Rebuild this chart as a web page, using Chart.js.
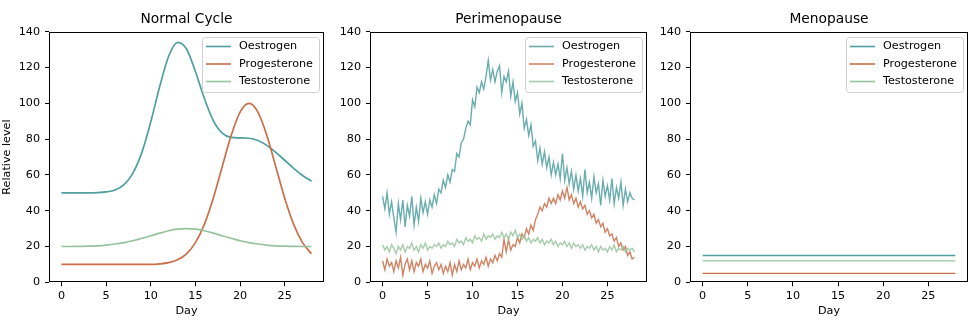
<!DOCTYPE html>
<html>
<head>
<meta charset="utf-8">
<title>Hormone levels</title>
<script src="https://cdn.jsdelivr.net/npm/chart.js@4.4.0/dist/chart.umd.min.js"></script>
<style>
  html, body { margin: 0; padding: 0; background: #fff; }
  #wrap { position: relative; width: 980px; height: 330px; }
  canvas { position: absolute; top: 0; }
</style>
</head>
<body>
<div id="wrap">
  <canvas id="normalChart" width="330" height="330" style="left:0px"></canvas>
  <canvas id="periChart" width="325" height="330" style="left:330px"></canvas>
  <canvas id="menoChart" width="330" height="330" style="left:650px"></canvas>
</div>
<script>
// ticks
const dayTicks = [0, 5, 10, 15, 20, 25];
const levelTicks = [0, 20, 40, 60, 80, 100, 120, 140];
const hormones = ['Oestrogen', 'Progesterone', 'Testosterone'];

// Normal cycle (one value per day)
const normalDays = [0, 1, 2, 3, 4, 5, 6, 7, 8, 9, 10, 11, 12, 13, 14, 15, 16, 17, 18, 19, 20, 21, 22, 23, 24, 25, 26, 27, 28];
const normalOestrogen = [50, 50, 50, 50, 50.1, 50.5, 51.6, 54.6, 61, 72.6, 89.7, 109.4, 126.3, 134.1, 130.4,
  117.8, 102.7, 90.4, 83.4, 81, 80.7, 80.5, 79.2, 76.5, 72.6, 68.2, 63.7, 59.7, 56.5];
const normalProgesterone = [10, 10, 10, 10, 10, 10, 10, 10, 10, 10, 10, 10.3, 11, 12.6, 15.9,
  22.2, 32.4, 47, 64.6, 82, 95.1, 100, 95.1, 82, 64.6, 47, 32.4, 22.2, 15.9];
const normalTestosterone = [20, 20, 20.1, 20.2, 20.4, 20.8, 21.4, 22.2, 23.2, 24.6, 26, 27.5, 28.8, 29.7, 30,
  29.7, 28.8, 27.5, 26, 24.6, 23.2, 22.2, 21.4, 20.8, 20.4, 20.2, 20.1, 20, 20];

// Perimenopause (read every quarter day, one row per day)
const periOestrogen = [
  48, 41, 50, 38,
  45, 36, 28, 44,
  35, 46, 31, 43,
  37, 48, 32, 42,
  34, 47, 39, 45,
  38, 46, 42, 49,
  44, 52, 50, 57,
  53, 60, 56, 63,
  62, 72, 70, 78,
  80, 86, 90, 88,
  102, 98, 109, 106,
  112, 108, 115, 124,
  113, 119, 112, 118,
  121, 106, 115, 112,
  118, 104, 112, 101,
  106, 94, 100, 86,
  91, 82, 88, 76,
  79, 68, 75, 66,
  73, 64, 70, 60,
  67, 60, 66, 58,
  72, 57, 64, 55,
  62, 52, 60, 51,
  58, 48, 63, 50,
  56, 47, 59, 50,
  55, 43, 57, 48,
  54, 46, 58, 44,
  53, 47, 56, 43,
  52, 45, 50, 47,
  46
];
const periProgesterone = [
  12, 7, 13, 9,
  11, 6, 12, 8,
  14, 4, 10, 13,
  7, 12, 6, 11,
  9, 13, 6, 10,
  8, 12, 5, 9,
  11, 7, 10, 5,
  9, 6, 11, 4,
  10, 6, 12, 7,
  10, 8, 13, 7,
  11, 9, 13, 8,
  12, 10, 14, 9,
  13, 11, 15, 12,
  16, 14, 24, 17,
  24, 18, 21, 20,
  25, 22, 27, 25,
  30, 27, 32, 29,
  35, 38, 42, 40,
  44, 42, 47, 44,
  47, 44, 49, 46,
  51, 47, 53, 46,
  49, 44, 47, 42,
  45, 41, 43, 38,
  40, 36, 38, 33,
  35, 31, 33, 28,
  30, 26, 27, 23,
  25, 20, 22, 18,
  20, 15, 17, 13,
  14
];
const periTestosterone = [
  21, 18, 20, 17,
  21, 19, 16, 20,
  18, 21, 17, 20,
  19, 22, 18, 20,
  17, 21, 19, 22,
  18, 20, 19, 21,
  20, 22, 19, 21,
  20, 23, 21, 22,
  20, 24, 22, 23,
  21, 25, 23, 24,
  22, 26, 24, 25,
  23, 27, 24, 26,
  25, 27, 24, 26,
  25, 28, 25, 27,
  24, 28, 26, 29,
  25, 27, 24, 26,
  23, 25, 22, 24,
  23, 25, 22, 24,
  21, 23, 22, 24,
  21, 23, 20, 22,
  21, 23, 20, 22,
  19, 22, 20, 21,
  19, 21, 18, 20,
  19, 21, 18, 20,
  17, 20, 18, 19,
  17, 20, 18, 21,
  17, 19, 18, 20,
  17, 19, 18, 19,
  17
];
const periDays = periOestrogen.map((_, i) => i * 0.25);

// Menopause (flat)
const menoDays = [0, 28];
const menoOestrogen = [15, 15];
const menoProgesterone = [5, 5];
const menoTestosterone = [12, 12];

const colors = ['#4f9fa0', '#c96f4a', '#96c39b'];
const periColors = ['rgba(79,159,160,0.85)', 'rgba(201,111,74,0.85)', 'rgba(150,195,155,0.85)'];

Chart.defaults.font.family = '"DejaVu Sans", sans-serif';
Chart.defaults.font.size = 11.2;
Chart.defaults.color = '#000';

function toPoints(xs, ys) {
  return xs.map((x, i) => ({ x: x, y: ys[i] }));
}

function makeDatasets(xs, series, cols, smooth) {
  return series.map((ys, i) => ({
    label: hormones[i],
    data: toPoints(xs, ys),
    borderColor: cols[i],
    borderWidth: smooth ? 1.7 : 1.4,
    cubicInterpolationMode: smooth ? 'monotone' : 'default',
    tension: 0,
    pointRadius: 0,
    order: series.length - i
  }));
}

// frame round the plot area, like matplotlib spines
const framePlugin = {
  id: 'frame',
  afterDatasetsDraw(chart) {
    const { ctx, chartArea: a } = chart;
    ctx.save();
    ctx.strokeStyle = '#000';
    ctx.lineWidth = 1;
    const l = Math.round(a.left) + 0.5, t = Math.round(a.top) + 0.5;
    const r = Math.round(a.right) - 0.5, b = Math.round(a.bottom) - 0.5;
    ctx.strokeRect(l, t, r - l, b - t);
    ctx.restore();
  }
};

// legend box in the upper right corner of the plot
const boxLegend = {
  id: 'boxLegend',
  afterDraw(chart) {
    const { ctx, chartArea: a } = chart;
    const w = 117, h = 55;
    const x = Math.round(a.right - 5.5 - w), y = Math.round(a.top + 5);
    ctx.save();
    ctx.fillStyle = 'rgba(255,255,255,0.8)';
    ctx.strokeStyle = '#d0d0d0';
    ctx.lineWidth = 1;
    ctx.beginPath();
    ctx.roundRect(x + 0.5, y + 0.5, w, h, 3);
    ctx.fill();
    ctx.stroke();
    ctx.font = '11.2px "DejaVu Sans", sans-serif';
    ctx.textBaseline = 'middle';
    chart.data.datasets.forEach((ds, i) => {
      const cy = y + 9.5 + i * 17.5;
      ctx.strokeStyle = ds.borderColor;
      ctx.lineWidth = 1.6;
      ctx.beginPath();
      ctx.moveTo(x + 4, cy);
      ctx.lineTo(x + 29, cy);
      ctx.stroke();
      ctx.fillStyle = '#000';
      ctx.fillText(ds.label, x + 37, cy);
    });
    ctx.restore();
  }
};

function makePanel(id, title, datasets, yWidth, padRight, showYTitle) {
  const ctx = document.getElementById(id).getContext('2d');
  return new Chart(ctx, {
    type: 'line',
    data: { datasets: datasets },
    options: {
      responsive: false,
      animation: false,
      layout: { padding: { left: 0, right: padRight, top: 0, bottom: 0 } },
      plugins: {
        legend: { display: false },
        tooltip: { enabled: false },
        title: {
          display: true, text: title, fullSize: false, color: '#000',
          font: { size: 13.8, weight: 'normal' },
          padding: { top: 10.8, bottom: 4.4 }
        }
      },
      scales: {
        x: {
          type: 'linear', min: -1.4, max: 29.4,
          afterBuildTicks: s => { s.ticks = dayTicks.map(v => ({ value: v })); },
          afterFit: s => { s.height = 47.7; },
          grid: { drawOnChartArea: false, drawTicks: true, tickLength: 4, color: '#000' },
          border: { display: false },
          ticks: { color: '#000', padding: 3, maxRotation: 0, autoSkip: false },
          title: { display: true, text: 'Day', color: '#000', padding: { top: 0, bottom: 12 } }
        },
        y: {
          min: 0, max: 140,
          afterBuildTicks: s => { s.ticks = levelTicks.map(v => ({ value: v })); },
          afterFit: s => { s.width = yWidth; },
          grid: { drawOnChartArea: false, drawTicks: true, tickLength: 4, color: '#000' },
          border: { display: false },
          ticks: { color: '#000', padding: 5, autoSkip: false },
          title: { display: showYTitle, text: 'Relative level', color: '#000', padding: { top: 0, bottom: 0 } }
        }
      }
    },
    plugins: [framePlugin, boxLegend]
  });
}

makePanel('normalChart', 'Normal Cycle',
  makeDatasets(normalDays, [normalOestrogen, normalProgesterone, normalTestosterone], colors, true),
  49, 6, true);
makePanel('periChart', 'Perimenopause',
  makeDatasets(periDays, [periOestrogen, periProgesterone, periTestosterone], periColors, false),
  40, 8, false);
makePanel('menoChart', 'Menopause',
  makeDatasets(menoDays, [menoOestrogen, menoProgesterone, menoTestosterone], colors, false),
  40, 12, false);
</script>
</body>
</html>
